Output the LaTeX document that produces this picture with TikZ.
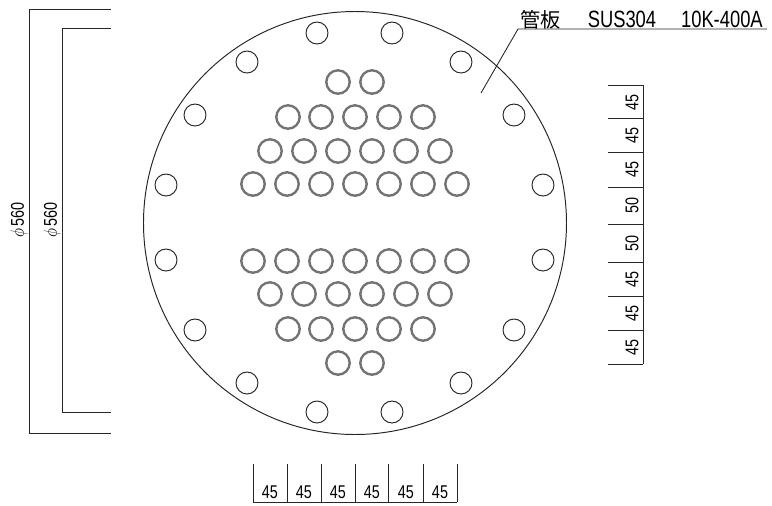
\documentclass[tikz,border=0pt]{standalone}
\usepackage{fontspec}
\setmainfont{Liberation Sans}
\newfontfamily\cjk{Noto Sans CJK JP}
\usepackage{xcolor}
\definecolor{inkgray}{gray}{0.15}
\definecolor{tubegray}{gray}{0.45}
\newcommand{\narrowtext}[1]{\scalebox{0.78}[1]{#1}}
\tikzset{
    plate/.style={draw=inkgray, line width=0.55pt},
    hole/.style={draw=inkgray, line width=0.55pt},
    tube/.style={draw=tubegray, line width=1.35pt},
    dimline/.style={draw=inkgray, line width=0.5pt},
    dimtext/.style={inner sep=0pt, text=black, font=\fontsize{10.5}{11}\selectfont},
}

\begin{document}
\begin{tikzpicture}[x=0.02cm, y=-0.02cm]
    \useasboundingbox (0,0) rectangle (772,505);

    % plate
    \draw[plate] (355,223) circle (211.5*0.02cm);

    % bolt holes
    \foreach \px/\py in {317/33,392/33,247/62,461/62,195/115,514/115,166/185,543/185,
                         166/260,543/260,195/330,514/330,247/383,461/383,317/412,392/412}
        \draw[hole] (\px,\py) circle (11*0.02cm);

    % tube holes
    \foreach \py in {82,363}
        \foreach \px in {338,372}
            \draw[tube] (\px,\py) circle (11.7*0.02cm);
    \foreach \py in {117,329}
        \foreach \px in {288,321,355,389,423}
            \draw[tube] (\px,\py) circle (11.7*0.02cm);
    \foreach \py in {151,294}
        \foreach \px in {270,304,338,372,406,440}
            \draw[tube] (\px,\py) circle (11.7*0.02cm);
    \foreach \py in {184,261}
        \foreach \px in {253,287,321,355,389,423,457}
            \draw[tube] (\px,\py) circle (11.7*0.02cm);

    % leader
    \coordinate (leadstart) at (481,93);
    \coordinate (leadbend) at (518,29);
    \coordinate (leadend) at (767,29);
    \draw[dimline] (leadstart) -- (leadbend) -- (leadend);
    \node[anchor=base west, inner sep=0pt, text=black, font=\fontsize{13.4}{14}\selectfont] (platelabel) at (520,27)
        {{\cjk\fontsize{11.5}{12}\selectfont 管板}\hspace{0.54cm}\narrowtext{SUS304\hspace{0.64cm}10K-400A}};

    % left dimensions
    \coordinate (outertop) at (111,9);
    \coordinate (outerbot) at (111,433);
    \coordinate (innertop) at (111,28);
    \coordinate (innerbot) at (111,412);
    \draw[dimline] (outertop) -- (29,9) -- (29,433) -- (outerbot);
    \draw[dimline] (innertop) -- (62,28) -- (62,412) -- (innerbot);
    \node[dimtext, rotate=90] (outerdim) at (19,220) {\narrowtext{$\phi$\,560}};
    \node[dimtext, rotate=90] (innerdim) at (52,220) {\narrowtext{$\phi$\,560}};

    % right dimensions
    \draw[dimline] (643,85) -- (643,364);
    \foreach \py in {85,118,152,187,224,262,296,330,364}
        \draw[dimline] (608,\py) -- (643,\py);
    \foreach \py/\val in {102/45,135/45,169/45,205/50,243/50,279/45,313/45,347/45}
        \node[dimtext, rotate=90] (right\py) at (632,\py) {\narrowtext{\val}};

    % bottom dimensions
    \draw[dimline] (253,502) -- (457,502);
    \foreach \px in {253,287,321,355,388,423,457}
        \draw[dimline] (\px,464) -- (\px,502);
    \foreach \px in {270,304,338,372,406,440}
        \node[dimtext] (bottom\px) at (\px,492) {\narrowtext{45}};
\end{tikzpicture}
\end{document}
